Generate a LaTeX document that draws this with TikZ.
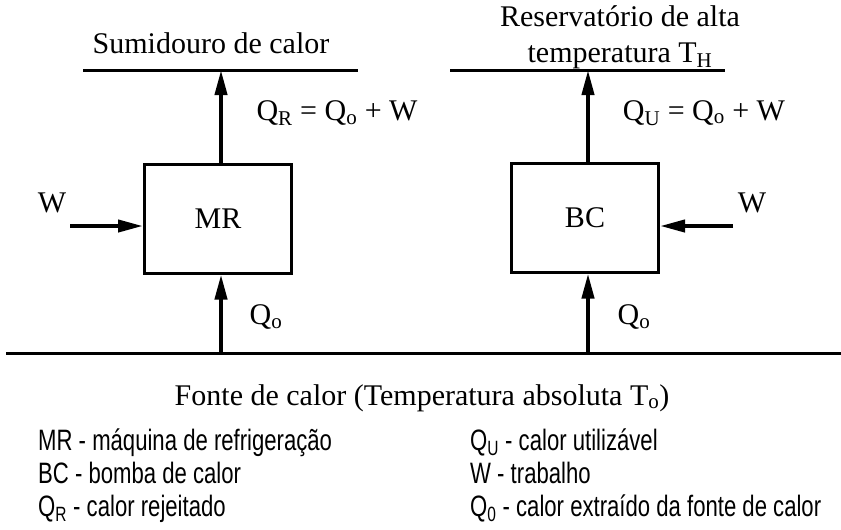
\documentclass[tikz,border=0pt]{standalone}
\usepackage{fontspec}
\setmainfont{Liberation Serif}
\newfontfamily\legendafont[FakeStretch=0.75]{Liberation Sans}
\usetikzlibrary{arrows.meta}
\tikzset{
  caixa/.style={draw, line width=3pt, minimum width=147pt, minimum height=109pt, inner sep=0pt},
  fluxo/.style={line width=4pt, -{Triangle[length=25pt,width=12pt]}},
  linha/.style={line width=3pt},
  legenda/.style={anchor=base west, inner sep=0pt, font=\legendafont\fontsize{29.5}{30}\selectfont},
}
\begin{document}
\begin{tikzpicture}[x=1pt, y=-1pt, font=\fontsize{30}{36}\selectfont]
    \useasboundingbox (0,0) rectangle (841,530);

    % Reservatorios (linhas)
    \coordinate (sumA) at (83,70);   \coordinate (sumB) at (358,70);
    \coordinate (resA) at (450,70);  \coordinate (resB) at (725,70);
    \coordinate (fonA) at (6,353);   \coordinate (fonB) at (841,353);
    \draw[linha] (sumA) -- (sumB);
    \draw[linha] (resA) -- (resB);
    \draw[linha] (fonA) -- (fonB);
    \node (sumidouro) at (211,43) {Sumidouro de calor};
    \node[align=center] (reservatorio) at (620,37) {Reservatório de alta\\temperatura T\textsubscript{H}};
    \node (fonte) at (422,398) {Fonte de calor (Temperatura absoluta T\textsubscript{o})};

    % Maquinas
    \node[caixa] (MR) at (218,218.5) {MR};
    \node[caixa] (BC) at (585,217.5) {BC};

    % Fluxos de calor
    \coordinate (qoMR) at (221,353);
    \coordinate (qoBC) at (588,353);
    \draw[fluxo] (qoMR) -- (qoMR |- MR.south);
    \draw[fluxo] (qoBC) -- (qoBC |- BC.south);
    \draw[fluxo] (MR.north -| qoMR) -- (qoMR |- sumA);
    \draw[fluxo] (BC.north -| qoBC) -- (qoBC |- resA);
    \node (qR) at (337,113) {Q\textsubscript{R} = Q\textsubscript{o} + W};
    \node (qU) at (704,113) {Q\textsubscript{U} = Q\textsubscript{o} + W};
    \node (qo1) at (266,317) {Q\textsubscript{o}};
    \node (qo2) at (634,317) {Q\textsubscript{o}};

    % Trabalho
    \coordinate (wMR) at (70,226);
    \coordinate (wBC) at (733,226);
    \draw[fluxo] (wMR) -- (wMR -| MR.west);
    \draw[fluxo] (wBC) -- (wBC -| BC.east);
    \node (w1) at (52,203) {W};
    \node (w2) at (752,203) {W};

    % Legenda
    \node[legenda] (l1) at (38,450) {MR - máquina de refrigeração};
    \node[legenda] (l2) at (38,483) {BC - bomba de calor};
    \node[legenda] (l3) at (38,516) {Q\textsubscript{R} - calor rejeitado};
    \node[legenda] (l4) at (470,450) {Q\textsubscript{U} - calor utilizável};
    \node[legenda] (l5) at (470,483) {W - trabalho};
    \node[legenda] (l6) at (470,516) {Q\textsubscript{0} - calor extraído da fonte de calor};
\end{tikzpicture}
\end{document}
